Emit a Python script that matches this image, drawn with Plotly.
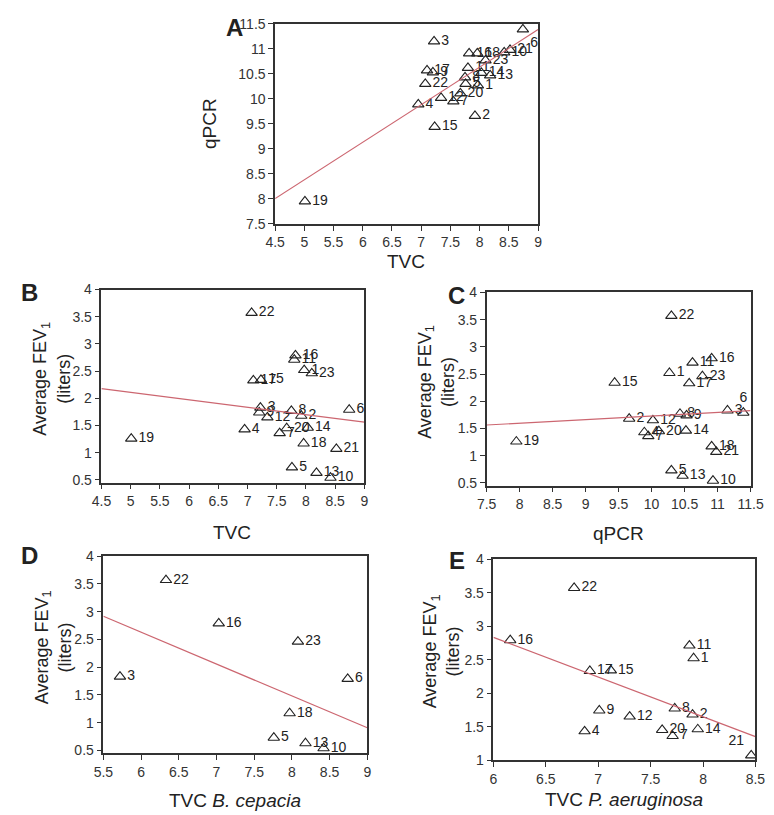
import numpy as np
import plotly.graph_objects as go

# patient data
ids = list(range(1, 24))
tvc = [7.97, 7.92, 7.22, 6.95, 7.76, 8.74, 7.55, 7.75, 7.20, 8.42, 7.80, 7.34,
       8.18, 8.03, 7.23, 7.82, 7.10, 7.96, 5.01, 7.67, 8.52, 7.07, 8.10]
qpcr = [10.27, 9.66, 11.15, 9.89, 10.30, 11.39, 9.95, 10.43, 10.53, 10.93, 10.62, 10.02,
        10.47, 10.52, 9.44, 10.91, 10.57, 10.91, 7.95, 10.11, 10.98, 10.30, 10.77]
fev1 = [2.52, 1.68, 1.83, 1.43, 0.73, 1.79, 1.36, 1.77, 1.74, 0.54, 2.71, 1.65,
        0.63, 1.46, 2.34, 2.79, 2.33, 1.17, 1.26, 1.45, 1.07, 3.57, 2.46]

ids_bc = [3, 5, 6, 10, 13, 16, 18, 22, 23]
tvc_bc = [5.72, 7.76, 8.74, 8.42, 8.18, 7.03, 7.97, 6.33, 8.08]

ids_pa = [1, 2, 4, 7, 8, 9, 11, 12, 14, 15, 16, 17, 20, 21, 22]
tvc_pa = [7.91, 7.90, 6.87, 7.71, 7.73, 7.01, 7.87, 7.30, 7.95, 7.12, 6.16, 6.92, 7.61, 8.46, 6.77]

W, H = 774, 815
FONT = "Arial, Liberation Sans, sans-serif"
LINE_RED = "#cc6670"


def dom_x(a, b):
    return [a / W, b / W]


def dom_y(top, bottom):
    return [1 - bottom / H, 1 - top / H]


fig = go.Figure()


def add_panel(n, xs, ys, labels, xrange, poss):
    xa = "x" if n == 1 else f"x{n}"
    ya = "y" if n == 1 else f"y{n}"
    fig.add_trace(go.Scatter(
        x=xs, y=ys, mode="markers+text",
        text=[str(l) for l in labels],
        textposition=poss,
        textfont=dict(family=FONT, size=14, color="#222"),
        marker=dict(symbol="triangle-up-open", size=10,
                    line=dict(color="#222", width=1.1), color="#222"),
        xaxis=xa, yaxis=ya, showlegend=False, cliponaxis=True,
    ))
    # least-squares fit line across the axis range
    k, b = np.polyfit(xs, ys, 1)
    fig.add_trace(go.Scatter(
        x=xrange, y=[k * xrange[0] + b, k * xrange[1] + b], mode="lines",
        line=dict(color=LINE_RED, width=1.2),
        xaxis=xa, yaxis=ya, showlegend=False, hoverinfo="skip",
    ))


def positions(labels, special):
    return [special.get(l, "middle right") for l in labels]


fev_by_id = dict(zip(ids, fev1))

add_panel(1, tvc, qpcr, ids, [4.5, 9], positions(ids, {6: "bottom right"}))
add_panel(2, tvc, fev1, ids, [4.5, 9], positions(ids, {}))
add_panel(3, qpcr, fev1, ids, [7.5, 11.5], positions(ids, {6: "top center"}))
add_panel(4, tvc_bc, [fev_by_id[i] for i in ids_bc], ids_bc, [5.5, 9], positions(ids_bc, {}))
add_panel(5, tvc_pa, [fev_by_id[i] for i in ids_pa], ids_pa, [6, 8.5], positions(ids_pa, {21: "top left"}))

axis_common = dict(
    showline=True, linecolor="#333", linewidth=1.5, mirror=True,
    ticks="outside", ticklen=5, tickwidth=1.2, tickcolor="#333",
    showgrid=False, zeroline=False,
    tickfont=dict(family=FONT, size=14, color="#333"),
)

# plot boxes in pixels: (left, right, top, bottom)
boxes = {
    1: (265, 536, 8, 212),
    2: (86, 357, 279, 476),
    3: (483, 755, 282, 479),
    4: (88, 360, 551, 752),
    5: (490, 760, 554, 759),
}
xranges = {1: [4.5, 9], 2: [4.5, 9], 3: [7.5, 11.5], 4: [5.5, 9], 5: [6, 8.5]}
yranges = {1: [7.5, 11.5], 2: [0.45, 4], 3: [0.45, 4], 4: [0.45, 4], 5: [1, 4]}

layout = {}
for n, (l, r, t, b) in boxes.items():
    xs = "xaxis" if n == 1 else f"xaxis{n}"
    ys = "yaxis" if n == 1 else f"yaxis{n}"
    xa = "x" if n == 1 else f"x{n}"
    ya = "y" if n == 1 else f"y{n}"
    ticks_y = [v / 2 for v in range(1, 24) if yranges[n][0] <= v / 2 <= yranges[n][1]]
    layout[xs] = dict(axis_common, domain=dom_x(l, r), range=xranges[n], anchor=ya, dtick=0.5)
    layout[ys] = dict(axis_common, domain=dom_y(t, b), range=yranges[n], anchor=xa,
                      tickvals=ticks_y, ticktext=[f"{v:g}" for v in ticks_y])

fig.update_layout(**layout)

ann = []


def txt(x, y, s, size=19, angle=0):
    ann.append(dict(x=x / W, y=1 - y / H, xref="paper", yref="paper", text=s,
                    showarrow=False, textangle=angle, xanchor="center", yanchor="middle",
                    font=dict(family=FONT, size=size, color="#222")))


fev_title = "Average FEV<sub>1</sub><br>(liters)"
# axis titles
txt(400, 250, "TVC")
txt(198, 110, "qPCR", angle=-90)
txt(221, 527, "TVC")
txt(35, 370, fev_title, size=18, angle=-90)
txt(619, 528, "qPCR")
txt(431, 373, fev_title, size=18, angle=-90)
txt(224, 800, "TVC <i>B. cepacia</i>")
txt(36, 644, fev_title, size=18, angle=-90)
txt(625, 799, "TVC <i>P. aeruginosa</i>")
txt(436, 648, fev_title, size=18, angle=-90)

# panel letters
for x, y, s in [(223, 12, "A"), (12, 282, "B"), (452, 285, "C"), (12, 550, "D"), (452, 555, "E")]:
    txt(x, y, f"<b>{s}</b>", size=24)

fig.update_layout(
    annotations=ann,
    width=W, height=H,
    margin=dict(l=0, r=0, t=0, b=0),
    plot_bgcolor="white", paper_bgcolor="white",
)

fig.write_html("out.html")
